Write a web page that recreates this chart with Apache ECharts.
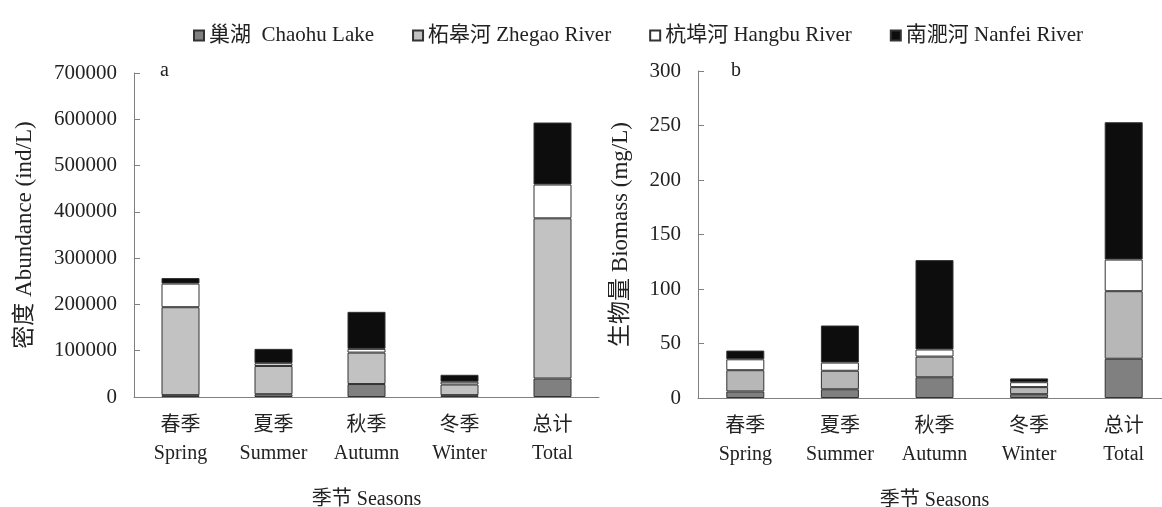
<!DOCTYPE html>
<html>
<head>
<meta charset="utf-8">
<script src="https://cdn.jsdelivr.net/npm/echarts@6/dist/echarts.min.js"></script>
<style>
  html, body { margin: 0; padding: 0; background: #fff; }
  #main { width: 1162px; height: 507px; }
</style>
</head>
<body>
<div id="main"></div>
<script>
const seasons = ['春季\nSpring', '夏季\nSummer', '秋季\nAutumn', '冬季\nWinter', '总计\nTotal'];
const seriesNames = ['巢湖  Chaohu Lake', '柘皋河 Zhegao River', '杭埠河 Hangbu River', '南淝河 Nanfei River'];

// a: 密度 Abundance (ind/L)
const abChaohu = [4000, 6000, 28000, 4000, 40000];
const abZhegao = [190000, 61000, 68000, 23000, 346000];
const abHangbu = [51000, 6000, 8000, 6000, 73000];
const abNanfei = [12000, 31000, 80000, 15000, 134000];

// b: 生物量 Biomass (mg/L)
const bmChaohu = [6, 8, 19, 3.5, 36];
const bmZhegao = [19.5, 17, 19, 6.5, 62];
const bmHangbu = [10, 7.5, 6.5, 4.5, 29];
const bmNanfei = [8, 34, 82, 3.5, 126];

const colorsA = ['#808080', '#c2c2c2', '#ffffff', '#0d0d0d'];
const colorsB = ['#808080', '#b7b7b7', '#ffffff', '#0d0d0d'];
const font = '"Liberation Serif", "Noto Sans CJK SC", serif';
const axisColor = '#808080';
const textColor = '#222';

const chart = echarts.init(document.getElementById('main'));

function xAxis(gridIndex) {
  return {
    type: 'category',
    gridIndex: gridIndex,
    data: seasons,
    name: '季节 Seasons',
    nameLocation: 'middle',
    nameGap: 93,
    nameTextStyle: {fontFamily: font, fontSize: 20, color: textColor},
    axisLine: {lineStyle: {color: axisColor, width: 1}},
    axisTick: {inside: true, length: 6, lineStyle: {color: axisColor}},
    axisLabel: {fontFamily: font, fontSize: 20, color: textColor, lineHeight: 28, margin: 15},
  };
}

function yAxis(gridIndex, max, interval, name, gap) {
  return {
    type: 'value',
    gridIndex: gridIndex,
    min: 0,
    max: max,
    interval: interval,
    name: name,
    nameLocation: 'middle',
    nameGap: gap,
    nameTextStyle: {fontFamily: font, fontSize: 23, color: textColor},
    axisLine: {show: true, lineStyle: {color: axisColor, width: 1}},
    axisTick: {show: true, inside: true, length: 6, lineStyle: {color: axisColor}},
    axisLabel: {fontFamily: font, fontSize: 21, color: textColor, margin: 17, formatter: v => String(v)},
    splitLine: {show: false},
  };
}

function bars(data, idx, axisIndex, colors) {
  return {
    name: seriesNames[idx],
    type: 'bar',
    stack: 'total' + axisIndex,
    xAxisIndex: axisIndex,
    yAxisIndex: axisIndex,
    barWidth: 38,
    itemStyle: {color: colors[idx], borderColor: '#333', borderWidth: 1},
    data: data,
  };
}

const option = {
  animation: false,
  backgroundColor: '#fff',
  textStyle: {fontFamily: font},
  legend: {
    top: 20,
    left: 188,
    itemWidth: 10,
    itemHeight: 10,
    itemGap: 38,
    icon: 'rect',
    textStyle: {fontFamily: font, fontSize: 21, color: textColor},
    data: seriesNames,
  },
  title: [
    {text: 'a', left: 155, top: 56, textStyle: {fontFamily: font, fontSize: 20, fontWeight: 'normal', color: textColor}},
    {text: 'b', left: 726, top: 56, textStyle: {fontFamily: font, fontSize: 20, fontWeight: 'normal', color: textColor}},
  ],
  grid: [
    {left: 134, top: 73, width: 465, height: 324, outerBoundsMode: 'none'},
    {left: 698, top: 71, width: 473, height: 327, outerBoundsMode: 'none'},
  ],
  xAxis: [xAxis(0), xAxis(1)],
  yAxis: [
    yAxis(0, 700000, 100000, '密度 Abundance (ind/L)', 98),
    yAxis(1, 300, 50, '生物量 Biomass (mg/L)', 66),
  ],
  series: [
    bars(abChaohu, 0, 0, colorsA),
    bars(abZhegao, 1, 0, colorsA),
    bars(abHangbu, 2, 0, colorsA),
    bars(abNanfei, 3, 0, colorsA),
    bars(bmChaohu, 0, 1, colorsB),
    bars(bmZhegao, 1, 1, colorsB),
    bars(bmHangbu, 2, 1, colorsB),
    bars(bmNanfei, 3, 1, colorsB),
  ],
};
chart.setOption(option);
</script>
</body>
</html>
